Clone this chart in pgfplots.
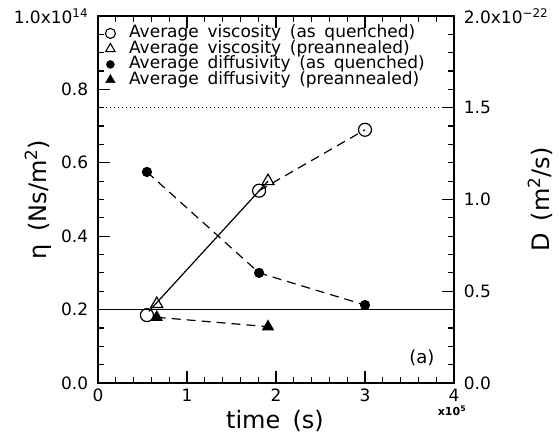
\documentclass[border=0pt]{standalone}
\usepackage{fontspec}
\setmainfont[WordSpace=1.6]{DejaVu Sans}
\usepackage{pgfplots}
\pgfplotsset{compat=1.18}

\begin{document}
\fontsize{17}{20}\selectfont
\begin{tikzpicture}
\useasboundingbox (-98pt,-56pt) rectangle (462pt,383pt);
\pgfplotsset{
  every axis/.append style={
    at={(0,0)}, anchor=south west,
    scale only axis, width=356pt, height=367pt,
    xmin=0, xmax=4, clip=false,
    tick align=inside,
    major tick length=12pt, minor tick length=6pt,
    axis line style={line width=1.5pt},
    every tick/.style={line width=1.2pt, black},
    /pgf/number format/assume math mode=true,
    tick label style={font=\fontsize{17}{20}\selectfont},
  },
}
\begin{axis}[
  ymin=0, ymax=1,
  xtick={0,1,2,3,4}, xticklabels={0,1,2,3,4},
  minor x tick num=4, xtick pos=both,
  ytick={0,0.2,0.4,0.6,0.8,1.0},
  yticklabels={0.0,0.2,0.4,0.6,0.8,{1.0x10\textsuperscript{14}}},
  minor y tick num=3, ytick pos=left,
  yticklabel style={xshift=-4pt},
  legend style={at={(rel axis cs:0,1)}, anchor=north west, draw=none, fill=none,
    xshift=6pt, yshift=-10pt,
    font=\fontsize{17}{15}\selectfont, row sep=1pt, inner sep=0pt,
    nodes={inner sep=0.5pt, text height=11pt, text depth=2.5pt}},
  legend cell align=left,
  legend image code/.code={%
    \path (-6pt,0pt) (18pt,0pt);
    \draw[#1] plot coordinates {(0pt,0pt)};},
]
\addlegendimage{only marks, mark=o, mark size=5pt, mark options={line width=1.1pt}}
\addlegendentry{Average viscosity (as quenched)}
\addlegendimage{only marks, mark=triangle, mark size=5.5pt, mark options={line width=1.1pt}}
\addlegendentry{Average viscosity (preannealed)}
\addlegendimage{only marks, mark=*, mark size=4pt}
\addlegendentry{Average diffusivity (as quenched)}
\addlegendimage{only marks, mark=triangle*, mark size=5.5pt}
\addlegendentry{Average diffusivity (preannealed)}

% reference lines
\addplot[forget plot, line width=1pt] coordinates {(0,0.2) (4,0.2)};
\addplot[forget plot, line width=1pt, dash pattern=on 1pt off 3pt] coordinates {(0,0.75) (4,0.75)};

% viscosity connecting lines
\addplot[forget plot, line width=1.2pt] coordinates {(0.57,0.195) (1.91,0.55)};
\addplot[forget plot, line width=1.2pt, dash pattern=on 9pt off 6pt] coordinates {(1.81,0.524) (3.0,0.69)};

% viscosity (as quenched)
\addplot[forget plot, only marks, mark=o, mark size=6.5pt, mark options={line width=1.2pt}]
  coordinates {(0.55,0.185) (1.81,0.524) (3.0,0.69)};
% viscosity (preannealed)
\addplot[forget plot, only marks, mark=triangle, mark size=7pt, mark options={line width=1.2pt}]
  coordinates {(0.66,0.215) (1.91,0.55)};

\node[font=\fontsize{18}{20}\selectfont] at (axis cs:3.64,0.068) {(a)};
\node[rotate=90, font=\fontsize{24}{27}\selectfont] at ([xshift=-60pt]rel axis cs:0,0.5) {η (Ns/m\textsuperscript{2})};
\node[font=\fontsize{24}{27}\selectfont] at ([xshift=-1pt,yshift=-38pt]rel axis cs:0.5,0) {time (s)};
\node[font=\fontsize{11}{13}\selectfont\bfseries] at ([xshift=-2pt,yshift=-28pt]rel axis cs:1,0) {x10\textsuperscript{5}};
\end{axis}

\begin{axis}[
  ymin=0, ymax=2,
  axis x line=none, axis y line*=right,
  ytick={0,0.5,1.0,1.5,2.0},
  yticklabels={0.0,0.5,1.0,1.5,{2.0x10\textsuperscript{−22}}},
  minor y tick num=4,
  yticklabel style={xshift=4pt},
]
% diffusivity (as quenched)
\addplot[line width=1.2pt, dash pattern=on 9pt off 6pt, mark=*, mark size=4.5pt, mark options={solid}]
  coordinates {(0.55,1.15) (1.81,0.60) (3.0,0.425)};
% diffusivity (preannealed)
\addplot[line width=1.2pt, dash pattern=on 9pt off 6pt, mark=triangle*, mark size=6pt, mark options={solid}]
  coordinates {(0.66,0.358) (1.91,0.307)};
\node[rotate=90, font=\fontsize{24}{27}\selectfont] at ([xshift=86pt]rel axis cs:1,0.5) {D (m\textsuperscript{2}/s)};
\end{axis}
\end{tikzpicture}
\end{document}
